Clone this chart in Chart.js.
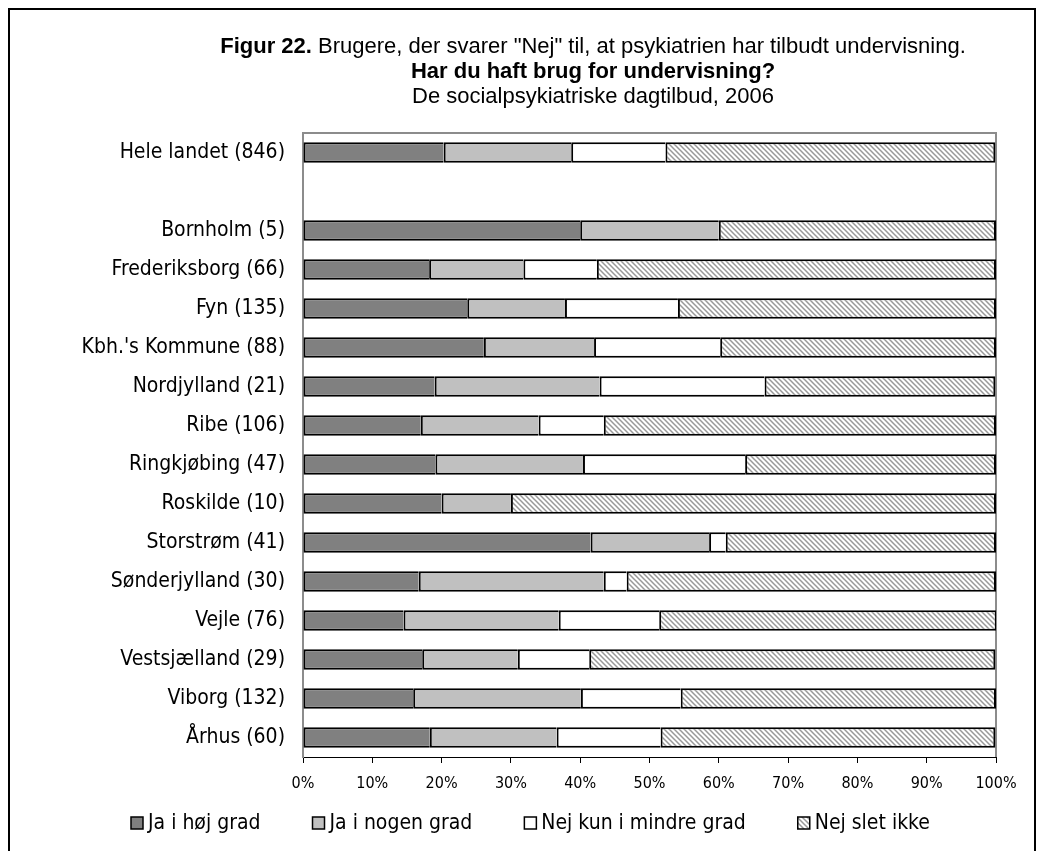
<!DOCTYPE html>
<html>
<head>
<meta charset="utf-8">
<script src="https://cdn.jsdelivr.net/npm/chart.js@4.4.1/dist/chart.umd.min.js"></script>
<style>
  html, body { margin: 0; padding: 0; background: #fff; }
</style>
</head>
<body>
<canvas id="chart" width="1043" height="851"></canvas>
<script>
// --- Data (percent of respondents per region) ---
const categories = [
    'Hele landet (846)', '', 'Bornholm (5)', 'Frederiksborg (66)', 'Fyn (135)',
    "Kbh.'s Kommune (88)", 'Nordjylland (21)', 'Ribe (106)', 'Ringkjøbing (47)',
    'Roskilde (10)', 'Storstrøm (41)', 'Sønderjylland (30)', 'Vejle (76)',
    'Vestsjælland (29)', 'Viborg (132)', 'Århus (60)'
];
const jaHoejGrad   = [20.3, null, 40.0, 18.2, 23.7, 26.1, 19.0, 17.0, 19.1, 20.0, 41.5, 16.7, 14.5, 17.2, 15.9, 18.3];
const jaNogenGrad  = [18.4, null, 20.0, 13.6, 14.1, 15.9, 23.8, 17.0, 21.3, 10.0, 17.1, 26.7, 22.4, 13.8, 24.2, 18.3];
const nejMindre    = [13.6, null,  0.0, 10.6, 16.3, 18.2, 23.8,  9.4, 23.4,  0.0,  2.4,  3.3, 14.5, 10.3, 14.4, 15.0];
const nejSletIkke  = [47.6, null, 40.0, 57.6, 45.9, 39.8, 33.3, 56.6, 36.2, 70.0, 39.0, 53.3, 48.7, 58.6, 45.5, 48.3];
const seriesNames  = ['Ja i høj grad', 'Ja i nogen grad', 'Nej kun i mindre grad', 'Nej slet ikke'];
const xTicks       = [0, 10, 20, 30, 40, 50, 60, 70, 80, 90, 100];

const titleBold  = 'Figur 22.';
const titleRest  = ' Brugere, der svarer "Nej" til, at psykiatrien har tilbudt undervisning.';
const titleLine2 = 'Har du haft brug for undervisning?';
const titleLine3 = 'De socialpsykiatriske dagtilbud, 2006';

const labelFont = "'DejaVu Sans Condensed', 'DejaVu Sans', sans-serif";
const titleFont = "'Liberation Sans', Arial, sans-serif";
const titleSize = 22;

// hatched fill for "Nej slet ikke"
function makeHatch() {
    const c = document.createElement('canvas');
    c.width = 5; c.height = 5;
    const g = c.getContext('2d');
    g.fillStyle = '#fff';
    g.fillRect(0, 0, 5, 5);
    g.strokeStyle = '#999';
    g.lineWidth = 1.5;
    g.beginPath();
    g.moveTo(-1, -1); g.lineTo(6, 6);
    g.moveTo(4, -1); g.lineTo(6, 1);
    g.moveTo(-1, 4); g.lineTo(1, 6);
    g.stroke();
    return g.createPattern(c, 'repeat');
}
const hatch = makeHatch();
const fills = ['#808080', '#c0c0c0', '#ffffff', hatch];
const seriesData = [jaHoejGrad, jaNogenGrad, nejMindre, nejSletIkke];

const datasets = seriesNames.map((name, i) => ({
    label: name,
    data: seriesData[i],
    backgroundColor: fills[i],
    borderColor: '#000',
    borderWidth: i === 3 ? { top: 2, bottom: 2, left: 2, right: 2 } : { top: 2, bottom: 2, left: 2, right: 0 },
    borderSkipped: false,
    categoryPercentage: 1,
    barPercentage: 0.52
}));

// page frame, titles, plot frame and legend
const decorations = {
    id: 'decorations',
    beforeDraw(chart) {
        const ctx = chart.ctx;
        ctx.save();
        ctx.fillStyle = '#fff';
        ctx.fillRect(0, 0, chart.width, chart.height);
        ctx.strokeStyle = '#000';
        ctx.lineWidth = 2;
        ctx.beginPath();
        ctx.moveTo(9, chart.height + 5);
        ctx.lineTo(9, 9);
        ctx.lineTo(1035, 9);
        ctx.lineTo(1035, chart.height + 5);
        ctx.stroke();
        ctx.restore();
    },
    beforeDatasetsDraw(chart) {
        const { ctx, chartArea: a } = chart;
        ctx.save();
        ctx.strokeStyle = '#8c8c8c';
        ctx.lineWidth = 2;
        ctx.beginPath();
        ctx.moveTo(a.left, a.top);
        ctx.lineTo(a.right, a.top);
        ctx.lineTo(a.right, a.bottom);
        ctx.stroke();
        ctx.restore();
    },
    afterDraw(chart) {
        const ctx = chart.ctx;
        const cx = 593;
        ctx.save();
        ctx.fillStyle = '#000';
        ctx.textBaseline = 'middle';

        const bold = 'bold ' + titleSize + 'px ' + titleFont;
        const normal = titleSize + 'px ' + titleFont;
        ctx.font = bold;
        const wb = ctx.measureText(titleBold).width;
        ctx.font = normal;
        const wr = ctx.measureText(titleRest).width;
        const x0 = cx - (wb + wr) / 2;
        ctx.textAlign = 'left';
        ctx.font = bold;
        ctx.fillText(titleBold, x0, 47);
        ctx.font = normal;
        ctx.fillText(titleRest, x0 + wb, 47);

        ctx.textAlign = 'center';
        ctx.font = bold;
        ctx.fillText(titleLine2, cx, 72);
        ctx.font = normal;
        ctx.fillText(titleLine3, cx, 97);

        // legend, centred under the chart
        const ly = 823, box = 12, gap = 5, spacing = 52;
        ctx.textAlign = 'left';
        ctx.font = '21px ' + labelFont;
        const widths = seriesNames.map(n => ctx.measureText(n).width);
        const total = widths.reduce((s, w) => s + w + box + gap, 0) + spacing * (seriesNames.length - 1);
        let bx = Math.round(530 - total / 2);
        seriesNames.forEach((name, i) => {
            ctx.fillStyle = fills[i];
            ctx.fillRect(bx, ly - box / 2, box, box);
            ctx.strokeStyle = '#000';
            ctx.lineWidth = 1.5;
            ctx.strokeRect(bx, ly - box / 2, box, box);
            ctx.fillStyle = '#000';
            ctx.fillText(name, bx + box + gap, ly + 1);
            bx += box + gap + widths[i] + spacing;
        });
        ctx.restore();
    }
};

new Chart(document.getElementById('chart'), {
    type: 'bar',
    data: { labels: categories, datasets },
    options: {
        indexAxis: 'y',
        responsive: false,
        animation: false,
        layout: { padding: { top: 133, right: 47, bottom: 0, left: 0 } },
        plugins: { legend: { display: false }, title: { display: false }, tooltip: { enabled: false } },
        scales: {
            x: {
                stacked: true,
                min: 0,
                max: 100,
                afterFit: (s) => { s.height = 94; },
                afterBuildTicks: (s) => { s.ticks = xTicks.map(v => ({ value: v })); },
                ticks: {
                    callback: (v) => v + '%',
                    font: { family: labelFont, size: 16 },
                    color: '#000',
                    padding: 11,
                    maxRotation: 0
                },
                grid: { drawOnChartArea: false, drawTicks: true, tickLength: 6, color: '#000', lineWidth: 1 },
                border: { color: '#000', width: 1 }
            },
            y: {
                stacked: true,
                afterFit: (s) => { s.width = 303; },
                ticks: {
                    font: { family: labelFont, size: 21 },
                    color: '#000',
                    padding: 18,
                    autoSkip: false
                },
                grid: { display: true, drawOnChartArea: false, drawTicks: false },
                border: { color: '#8c8c8c', width: 2 }
            }
        }
    },
    plugins: [decorations]
});
</script>
</body>
</html>
